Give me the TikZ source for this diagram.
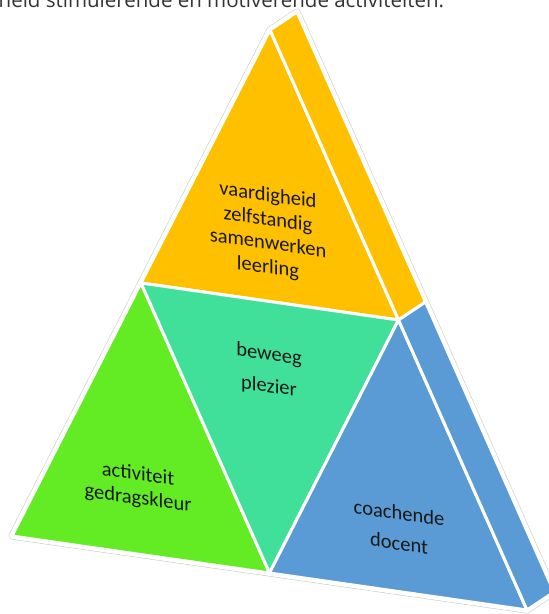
\documentclass[tikz,border=0pt]{standalone}
\usepackage{fontspec}
\newfontfamily\labfont{Carlito}
\newfontfamily\capfont{Open Sans}
\usetikzlibrary{calc}
\definecolor{gold}{RGB}{255,192,0}
\definecolor{lime}{RGB}{99,236,35}
\definecolor{mint}{RGB}{64,224,154}
\definecolor{steel}{RGB}{91,155,213}

\begin{document}
\begin{tikzpicture}[x=1pt,y=1pt,
	face/.style={draw=white,line width=3pt,line join=round},
	lbl/.style={font=\labfont\fontsize{20.5}{24}\selectfont,text=black!90,align=center,yslant=-.14,inner sep=0pt}]
	\clip (0,0) rectangle (549,614);
	\coordinate (top) at (270,584);
	\coordinate (left) at (12,78);
	\coordinate (right) at (527,4);
	\coordinate (tt) at ($(top)+(27,18)$);
	\coordinate (rr) at ($(right)+(27,18)$);
	\coordinate (ml) at ($(top)!.5!(left)$);
	\coordinate (mr) at ($(top)!.5!(right)$);
	\coordinate (mb) at ($(left)!.5!(right)$);
	\coordinate (ms) at ($(mr)+(27,18)$);
	% outline
	\draw[gray!45,line width=7pt,line join=round] (left) -- (top) -- (tt) -- (rr) -- (right) -- cycle;
	\draw[white,line width=6pt,line join=round] (left) -- (top) -- (tt) -- (rr) -- (right) -- cycle;
	% front
	\filldraw[face,fill=gold] (top) -- (ml) -- (mr) -- cycle;
	\filldraw[face,fill=lime] (ml) -- (left) -- (mb) -- cycle;
	\filldraw[face,fill=mint] (ml) -- (mb) -- (mr) -- cycle;
	\filldraw[face,fill=steel] (mr) -- (mb) -- (right) -- cycle;
	% side
	\filldraw[face,fill=gold] (top) -- (tt) -- (ms) -- (mr) -- cycle;
	\filldraw[face,fill=steel] (mr) -- (ms) -- (rr) -- (right) -- cycle;
	% labels
	\node[lbl] (skill) at (268,382) {vaardigheid\\zelfstandig\\samenwerken\\leerling};
	\node[lbl] (joy) at (269,243) {beweeg\\[8pt]plezier};
	\node[lbl] (act) at (138,127) {activiteit\\gedragskleur};
	\node[lbl] (coach) at (399,86) {coachende\\[6pt]docent};
	\node[anchor=base west,inner sep=0pt,font=\capfont\fontsize{20.5}{24}\selectfont,text=black!80] (cap) at (-1.5,606.5) {heid stimulerende en motiverende activiteiten.};
\end{tikzpicture}
\end{document}
